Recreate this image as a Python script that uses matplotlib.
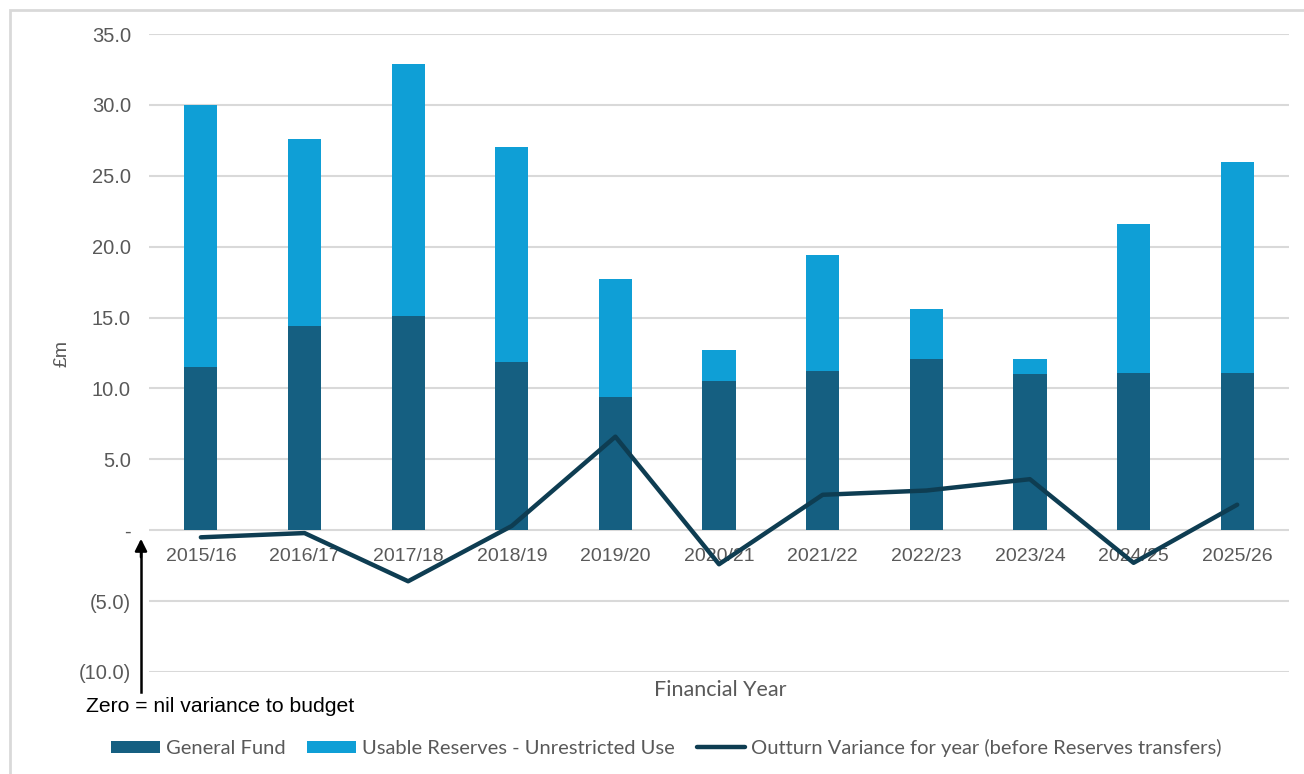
import matplotlib.pyplot as plt
from matplotlib.patches import Rectangle

plt.rcParams['font.family'] = ['Liberation Sans', 'DejaVu Sans']

years = ['2015/16', '2016/17', '2017/18', '2018/19', '2019/20', '2020/21',
         '2021/22', '2022/23', '2023/24', '2024/25', '2025/26']
general_fund = [11.5, 14.4, 15.1, 11.9, 9.4, 10.5, 11.2, 12.1, 11.0, 11.1, 11.1]
usable_reserves = [18.5, 13.2, 17.8, 15.1, 8.3, 2.2, 8.2, 3.5, 1.1, 10.5, 14.9]
outturn_variance = [-0.5, -0.2, -3.6, 0.3, 6.6, -2.4, 2.5, 2.8, 3.6, -2.3, 1.8]

y_ticks = [-10, -5, 0, 5, 10, 15, 20, 25, 30, 35]
y_labels = ['(10.0)', '(5.0)', '-', '5.0', '10.0', '15.0', '20.0', '25.0', '30.0', '35.0']

gf_col = '#155f81'
ur_col = '#0f9fd6'
line_col = '#0e3d52'
grey = '#595959'

fig = plt.figure(figsize=(13.04, 7.74), dpi=100)
ax = fig.add_axes([0.1143, 0.1318, 0.8742, 0.8242])

x = list(range(len(years)))
b1 = ax.bar(x, general_fund, width=0.32, color=gf_col, zorder=2)
b2 = ax.bar(x, usable_reserves, width=0.32, bottom=general_fund, color=ur_col, zorder=2)
ln, = ax.plot(x, outturn_variance, color=line_col, lw=3.2, solid_capstyle='round', zorder=3)

ax.set_xlim(-0.5, len(years) - 0.5)
ax.set_ylim(-10, 35)
ax.set_yticks(y_ticks)
ax.set_yticklabels(y_labels)
ax.yaxis.grid(True, color='#d9d9d9', lw=1.5, zorder=0)
ax.set_axisbelow(True)

for s in ['top', 'right', 'left']:
    ax.spines[s].set_visible(False)
ax.spines['bottom'].set_position(('data', 0))
ax.spines['bottom'].set_visible(False)

ax.set_xticks(x)
ax.set_xticklabels(years)
ax.tick_params(axis='x', length=0, pad=13, labelsize=14, labelcolor=grey)
ax.tick_params(axis='y', length=0, pad=13, labelsize=14.5, labelcolor=grey)

ax.set_ylabel('£m', fontsize=14, color=grey, labelpad=6)
fig.text(0.552, 1 - 690 / 774, 'Financial Year', ha='center', va='center',
         fontsize=15.5, color=grey, family='Lato')

# arrow pointing at the zero line
fig.add_artist(plt.Line2D([141 / 1304, 141 / 1304], [1 - 692 / 774, 1 - 550 / 774],
                          color='black', lw=1.8))
ax.annotate('', xy=(141 / 1304, 1 - 536 / 774), xytext=(141 / 1304, 1 - 560 / 774),
            xycoords='figure fraction', textcoords='figure fraction',
            arrowprops=dict(arrowstyle='-|>', color='black', lw=1.8, mutation_scale=18))
fig.text(86 / 1304, 1 - 707 / 774, 'Zero = nil variance to budget', ha='left',
         va='center', fontsize=15.2, color='black')

leg = fig.legend([b1, b2, ln],
                 ['General Fund', 'Usable Reserves - Unrestricted Use',
                  'Outturn Variance for year (before Reserves transfers)'],
                 loc='center', bbox_to_anchor=(0.511, 1 - 748 / 774), ncol=3,
                 frameon=False, prop={'family': 'Lato', 'size': 14.5},
                 handlelength=2.4, handleheight=0.6, columnspacing=1.1,
                 handletextpad=0.3)
for t in leg.get_texts():
    t.set_color(grey)

# outer frame
fig.add_artist(Rectangle((10 / 1304, -0.1), 1.2, 1 - 10 / 774 + 0.1,
                         transform=fig.transFigure, fill=False,
                         edgecolor='#d9d9d9', lw=2))

fig.savefig('out.png', dpi=100)
